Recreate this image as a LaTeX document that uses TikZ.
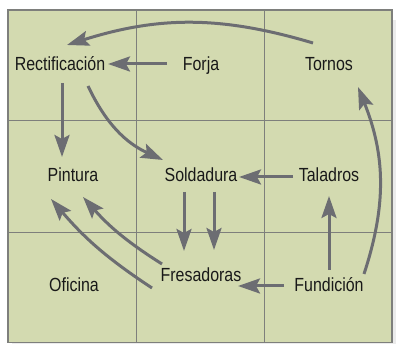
\documentclass[tikz,border=0pt]{standalone}
\usepackage{fontspec}
\setmainfont{Liberation Sans}[FakeStretch=0.84]
\usepackage{xcolor}
\usepackage{tikz}
\usetikzlibrary{arrows.meta}
\definecolor{cellgreen}{HTML}{D3DAB0}
\definecolor{gridgray}{HTML}{7E7F7C}
\definecolor{arrgray}{HTML}{6C6D72}

\begin{document}
\begin{tikzpicture}[x=1pt,y=1pt,font=\fontsize{19}{21}\selectfont,
  lbl/.style={anchor=base,inner sep=0pt,text=black!90},
  arr/.style={-{Stealth[length=22pt,width=15pt,inset=4pt]},line width=3pt,draw=arrgray}]
\useasboundingbox (0,0) rectangle (396,344);
\fill[black!8] (12,0) rectangle (396,324);
\fill[cellgreen] (8,1.5) rectangle (392,334);
\draw[gridgray,line width=0.8pt] (136,1.5) -- (136,334) (264,1.5) -- (264,334)
  (8,112) -- (392,112) (8,224) -- (392,224);
\draw[gridgray,line width=1.5pt] (8,1.5) rectangle (392,334);
% rooms
\node[lbl] (rect) at (60,273) {Rectificación};
\node[lbl] (forja) at (201,273) {Forja};
\node[lbl] (tornos) at (329,273) {Tornos};
\node[lbl] (pintura) at (73,162) {Pintura};
\node[lbl] (sold) at (201,162) {Soldadura};
\node[lbl] (tal) at (329,162) {Taladros};
\node[lbl] (ofic) at (74,52) {Oficina};
\node[lbl] (fres) at (201,62) {Fresadoras};
\node[lbl] (fund) at (329,52) {Fundición};
% flows
\draw[arr] ([shift={(-16,28)}]tornos.base) to[bend right=17] ([shift={(7,26)}]rect.base);
\draw[arr] ([shift={(-34,7)}]forja.base) -- ([shift={(48,7)}]rect.base);
\draw[arr] ([shift={(2,-12)}]rect.base) -- ([shift={(-11,25)}]pintura.base);
\draw[arr] ([shift={(28,-15)}]rect.base) to[bend right=20] ([shift={(-38,22)}]sold.base);
\draw[arr] ([shift={(-36,5)}]tal.base) -- ([shift={(38,5)}]sold.base);
\draw[arr] ([shift={(-17,-10)}]sold.base) -- ([shift={(-17,31)}]fres.base);
\draw[arr] ([shift={(13,-10)}]sold.base) -- ([shift={(13,32)}]fres.base);
\draw[arr] ([shift={(-45,6)}]fund.base) -- ([shift={(37,-4)}]fres.base);
\draw[arr] ([shift={(0,22)}]fund.base) -- ([shift={(0,-14)}]tal.base);
\draw[arr] ([shift={(35,18)}]fund.base) to[bend right=20] ([shift={(29,-16)}]tornos.base);
\draw[arr] ([shift={(-39,18)}]fres.base) to[bend left=8] ([shift={(10,-15)}]pintura.base);
\draw[arr] ([shift={(-49,-6)}]fres.base) to[bend left=8] ([shift={(-22,-17)}]pintura.base);
\end{tikzpicture}
\end{document}
